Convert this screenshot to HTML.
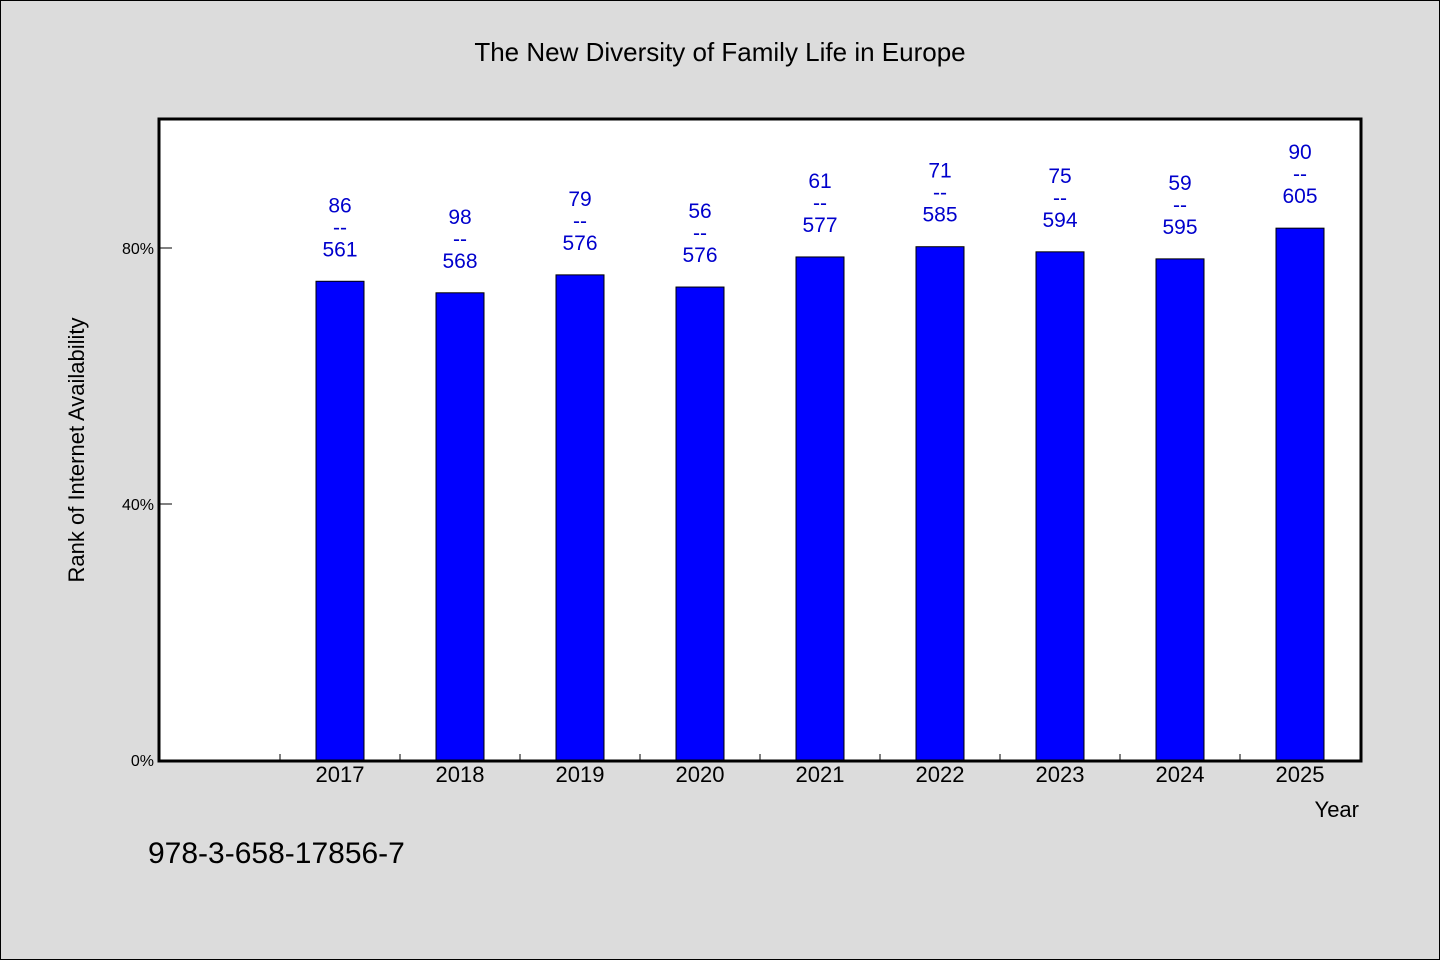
<!DOCTYPE html>
<html><head><meta charset="utf-8"><style>
body{margin:0;background:#dcdcdc;}
svg{display:block;font-family:"WenQuanYi Zen Hei","Liberation Sans",sans-serif;}
</style></head><body>
<svg id="chart" width="1440" height="960" xmlns="http://www.w3.org/2000/svg">
<rect x="0.5" y="0.5" width="1439" height="959" fill="#dcdcdc" stroke="#000"/>
<text x="720" y="61" text-anchor="middle" font-size="26" fill="#000">The New Diversity of Family Life in Europe</text>
<rect x="159" y="119" width="1202" height="642" fill="#fff" stroke="#000" stroke-width="3"/>
<g id="yaxis"></g>
<g id="xaxis"></g>
<g id="bars"></g>
<g id="labels"></g>
<text x="0" y="0" transform="translate(84,450) rotate(-90)" text-anchor="middle" font-size="22" fill="#000">Rank of Internet Availability</text>
<text x="1359" y="817" text-anchor="end" font-size="22" fill="#000">Year</text>
<text x="148" y="863" font-size="30" fill="#000">978-3-658-17856-7</text>
</svg>
<script>
const categories = ["2017","2018","2019","2020","2021","2022","2023","2024","2025"];
const values = [74.8, 73.0, 75.8, 73.9, 78.6, 80.2, 79.4, 78.3, 83.1];
const topLabels = ["86","98","79","56","61","71","75","59","90"];
const bottomLabels = ["561","568","576","576","577","585","594","595","605"];
const yTicks = [0, 40, 80];
const yTickLabels = ["0%","40%","80%"];

const NS = "http://www.w3.org/2000/svg";
const plotL = 160, plotR = 1360, plotT = 120, plotB = 760;
const yMax = 100;
const band = (plotR - plotL) / (categories.length + 1);
function y(v){ return plotB - v / yMax * (plotB - plotT); }
function xc(i){ return plotL + band * (i + 1) + band / 2; }
function mk(tag, attrs, parent){ const e=document.createElementNS(NS,tag); for(const k in attrs) e.setAttribute(k,attrs[k]); parent.appendChild(e); return e; }

const ya = document.getElementById('yaxis');
yTicks.forEach((t,i)=>{
  const l = mk('line',{x1:plotL,x2:plotL+12,y1:y(t),y2:y(t),stroke:'#000'},ya);
  
  
  const tx = mk('text',{x:plotL-6,y:y(t)+6,'text-anchor':'end','font-size':16,fill:'#000'},ya);
  tx.textContent = yTickLabels[i];
  
  
});
const xa = document.getElementById('xaxis');
for(let i=1;i<=categories.length;i++){
  const xx = plotL + band*i;
  const l = mk('line',{x1:xx,x2:xx,y1:plotB,y2:plotB-6,stroke:'#000'},xa);
  
  
}
const bg = document.getElementById('bars');
const lg = document.getElementById('labels');
categories.forEach((c,i)=>{
  const bw = 48;
  const r = mk('rect',{x:xc(i)-bw/2,y:y(values[i]),width:bw,height:plotB-y(values[i]),fill:'#0000ff',stroke:'#000','stroke-width':1},bg);
  
  
  const tx = mk('text',{x:xc(i),y:plotB+22,'text-anchor':'middle','font-size':22,fill:'#000'},xa);
  tx.textContent = c;
  
  
  const top = y(values[i]);
  const lines = [topLabels[i], '--', bottomLabels[i]];
  lines.forEach((s,j)=>{
    const t = mk('text',{x:xc(i),y:top-25-(2-j)*22,'text-anchor':'middle','font-size':21,fill:'#0000cc'},lg);
    t.textContent = s;
    
    
  });
});
</script>
</body></html>
